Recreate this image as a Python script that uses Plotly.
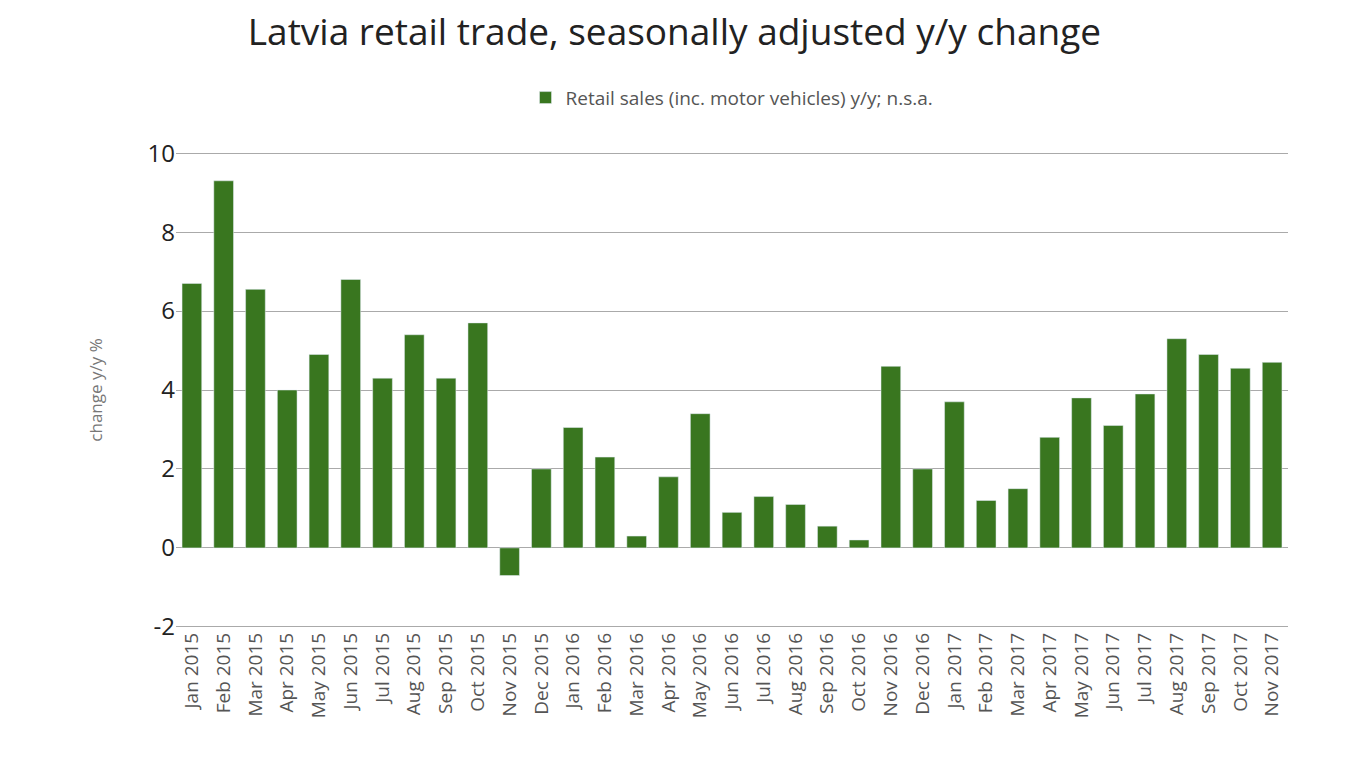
import plotly.graph_objects as go

months = ["Jan 2015","Feb 2015","Mar 2015","Apr 2015","May 2015","Jun 2015","Jul 2015","Aug 2015","Sep 2015","Oct 2015","Nov 2015","Dec 2015",
          "Jan 2016","Feb 2016","Mar 2016","Apr 2016","May 2016","Jun 2016","Jul 2016","Aug 2016","Sep 2016","Oct 2016","Nov 2016","Dec 2016",
          "Jan 2017","Feb 2017","Mar 2017","Apr 2017","May 2017","Jun 2017","Jul 2017","Aug 2017","Sep 2017","Oct 2017","Nov 2017"]
values = [6.7,9.3,6.55,4.0,4.9,6.8,4.3,5.4,4.3,5.7,-0.7,2.0,
          3.05,2.3,0.3,1.8,3.4,0.9,1.3,1.1,0.55,0.2,4.6,2.0,
          3.7,1.2,1.5,2.8,3.8,3.1,3.9,5.3,4.9,4.55,4.7]
yticks = [-2,0,2,4,6,8,10]
yticktext = ["-2","0","2","4","6","8","10"]

fig = go.Figure(go.Bar(x=months, y=values, marker_color="#39761f",
                       name="Retail sales (inc. motor vehicles) y/y; n.s.a.", showlegend=True))
fig.update_layout(
    width=1360, height=765, plot_bgcolor="white", paper_bgcolor="white",
    font=dict(family="Open Sans", color="#333"),
    title=dict(text="Latvia retail trade, seasonally adjusted y/y change", x=0.49, xanchor="center",
               y=0.968, yanchor="middle", font=dict(size=37, color="#222")),
    legend=dict(orientation="h", x=0.5, xanchor="center", y=1.114, yanchor="middle",
                font=dict(size=19, color="#555")),
    margin=dict(l=168, r=80, t=144, b=145),
    bargap=0.38,
    xaxis=dict(tickangle=-90, tickfont=dict(size=19, color="#555"), showline=False, ticks=""),
    yaxis=dict(range=[-2.03,10.03], tickvals=yticks, ticktext=yticktext, tickfont=dict(size=24, color="#222"),
               gridcolor="#aaa", gridwidth=1, zeroline=True, zerolinecolor="#aaa", zerolinewidth=1,
               title=dict(text="change y/y %", font=dict(size=17, color="#777"), standoff=40)),
)
fig.write_html("out.html")
